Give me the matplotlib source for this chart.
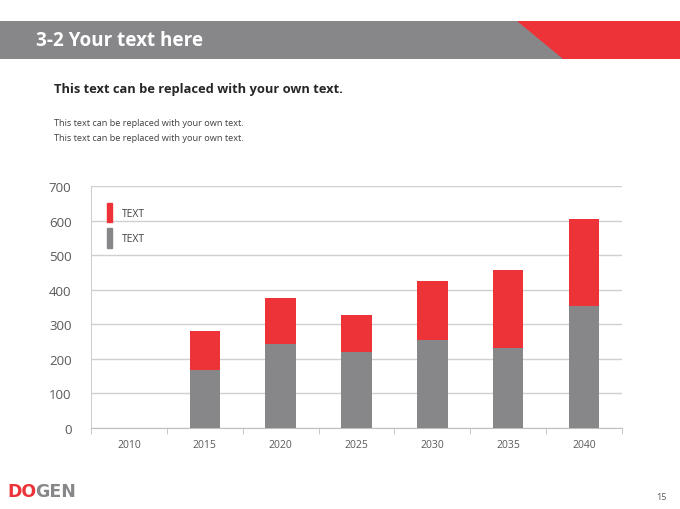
import matplotlib
matplotlib.use("Agg")
import matplotlib.pyplot as plt
from matplotlib.patches import Polygon, Patch
import numpy as np

plt.rcParams['font.family'] = ['Open Sans', 'DejaVu Sans']

years = ['2010', '2015', '2020', '2025', '2030', '2035', '2040']
gray_vals = [0, 168, 243, 219, 255, 232, 353]
red_vals = [0, 113, 132, 108, 169, 224, 252]
legend_labels = ['TEXT', 'TEXT']

RED = '#ED3238'
GRAY = '#87878A'

W, H = 680, 510
fig = plt.figure(figsize=(6.8, 5.1), dpi=100)

def px(x, y):
    # pixel position (from top-left) -> figure fraction
    return (x / W, 1 - y / H)

# header band
fig.add_artist(Polygon([px(0, 22), px(680, 22), px(680, 60), px(0, 60)],
                       closed=True, transform=fig.transFigure, color=GRAY, lw=0))
fig.add_artist(Polygon([px(517, 22), px(680, 22), px(680, 60), px(563, 60)],
                       closed=True, transform=fig.transFigure, color=RED, lw=0))
fig.text(*px(36, 41), '3-2 Your text here', color='white', fontsize=13.6,
         fontweight='bold', va='center', ha='left')

fig.text(*px(54, 90), 'This text can be replaced with your own text.', color='#262626',
         fontsize=9.3, fontweight='bold', va='center', ha='left')
fig.text(*px(54, 124), 'This text can be replaced with your own text.', color='#404040',
         fontsize=6.6, va='center', ha='left')
fig.text(*px(54, 139), 'This text can be replaced with your own text.', color='#404040',
         fontsize=6.6, va='center', ha='left')

# chart
ax = fig.add_axes([91 / W, 1 - 429 / H, 531 / W, 242 / H])
x = np.arange(len(years))
ax.bar(x, gray_vals, width=0.4, color=GRAY, zorder=3)
ax.bar(x, red_vals, width=0.4, bottom=gray_vals, color=RED, zorder=3)

ax.set_xlim(-0.5, len(years) - 0.5)
ax.set_ylim(0, 700)
ax.set_yticks(range(0, 701, 100))
ax.yaxis.grid(True, color='#D0D0D0', lw=1, zorder=0)
ax.tick_params(axis='y', length=0, labelsize=9.5, labelcolor='#595959', pad=14)
ax.set_xticks(x)
ax.set_xticklabels(years)
ax.tick_params(axis='x', length=0, labelsize=7.5, labelcolor='#595959', pad=8)
ax.set_xticks(np.arange(-0.5, len(years), 1), minor=True)
ax.tick_params(axis='x', which='minor', length=4, color='#BFBFBF', direction='out')
for s in ['top', 'right']:
    ax.spines[s].set_visible(False)
ax.spines['left'].set_color('#D0D0D0')
ax.spines['bottom'].set_color('#BFBFBF')

handles = [Patch(color=RED), Patch(color=GRAY)]
ax.legend(handles, legend_labels, loc='upper left', bbox_to_anchor=(0.012, 0.97),
          frameon=False, handlelength=0.55, handleheight=2.5, handletextpad=0.9,
          labelspacing=0.6, fontsize=7.5, labelcolor='#404040')

# logo and page number
do = fig.text(*px(7, 492), 'DO', color=RED, fontsize=12.5, fontweight='bold',
              va='center', ha='left', family='DejaVu Sans')
ax.annotate('GEN', xy=(1, 0.5), xycoords=do, xytext=(-0.5, 0), textcoords='offset points',
            color=GRAY, fontsize=12.5, fontweight='bold', va='center', ha='left',
            family='DejaVu Sans', annotation_clip=False)
fig.text(*px(667, 498), '15', color='#595959', fontsize=6.5, va='center', ha='right')

fig.savefig('out.png', dpi=100)
